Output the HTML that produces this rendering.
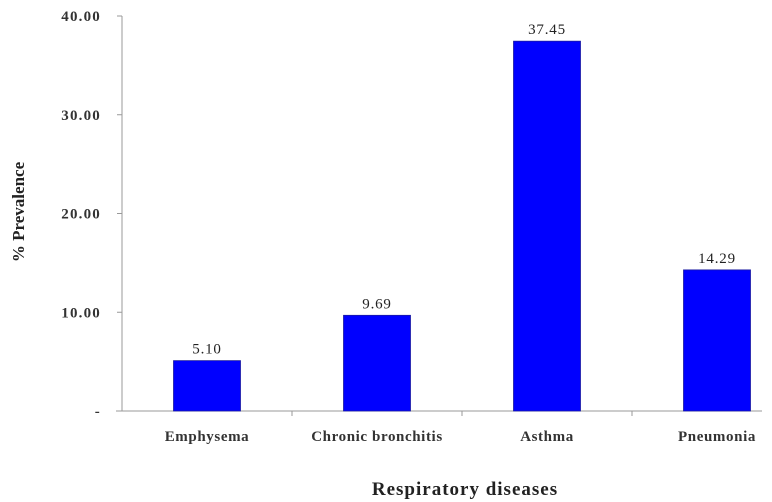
<!DOCTYPE html>
<html><head><meta charset="utf-8"><style>
html,body{margin:0;padding:0;background:#fff;}
svg{display:block;font-family:"Liberation Serif",serif;}
</style></head><body>
<svg id="chart" width="772" height="502" viewBox="0 0 772 502">
<g id="axes"></g><g id="bars"></g>
<text x="465" y="495" text-anchor="middle" font-size="19" font-weight="bold" letter-spacing="1" fill="#222">Respiratory diseases</text>
<text transform="translate(24,212) rotate(-90)" text-anchor="middle" font-size="17" font-weight="bold" fill="#222">% Prevalence</text>
</svg>
<script>
const categories=["Emphysema","Chronic bronchitis","Asthma","Pneumonia"];
const values=[5.10,9.69,37.45,14.29];
const valueLabels=["5.10","9.69","37.45","14.29"];
const yTicks=[0,10,20,30,40];
const yTickLabels=["-","10.00","20.00","30.00","40.00"];
const NS="http://www.w3.org/2000/svg";
const x0=122,band=170,y0=411,yTop=16,yMax=40,barW=67;
function y(v){return y0-(v/yMax)*(y0-yTop);}
function xc(i){return x0+band*i+band/2;}
function mk(t,a,p){const e=document.createElementNS(NS,t);for(const k in a)e.setAttribute(k,a[k]);p.appendChild(e);return e;}
const ax=document.getElementById('axes'),bg=document.getElementById('bars');
const yl=mk('line',{x1:x0,y1:yTop,x2:x0,y2:y0,stroke:'#999','stroke-width':1},ax);


const xl=mk('line',{x1:x0-6,y1:y0,x2:762,y2:y0,stroke:'#999','stroke-width':1},ax);


yTicks.forEach((v,i)=>{
 mk('line',{x1:x0-5,y1:y(v),x2:x0,y2:y(v),stroke:'#999'},ax);
 const t=mk('text',{x:x0-21,y:y(v)+5,'text-anchor':'end','font-size':15,'font-weight':'bold','letter-spacing':1.2,fill:'#333'},ax);
 t.textContent=yTickLabels[i];
 
 
});
categories.forEach((c,i)=>{
 if(i>0) mk('line',{x1:x0+band*i,y1:y0,x2:x0+band*i,y2:y0+5,stroke:'#999'},ax);
 const r=mk('rect',{x:xc(i)-barW/2,y:y(values[i]),width:barW,height:y0-y(values[i]),fill:'#0000ff',stroke:'#1a1aa0','stroke-width':0.8},bg);
 
 
 const vl=mk('text',{x:xc(i),y:y(values[i])-7,'text-anchor':'middle','font-size':15,'letter-spacing':0.8,fill:'#222'},bg);
 vl.textContent=valueLabels[i];
 
 
 const cl=mk('text',{x:xc(i),y:y0+30,'text-anchor':'middle','font-size':15,'font-weight':'bold','letter-spacing':0.6,fill:'#333'},bg);
 cl.textContent=c;
 
 
});
</script>
</body></html>
